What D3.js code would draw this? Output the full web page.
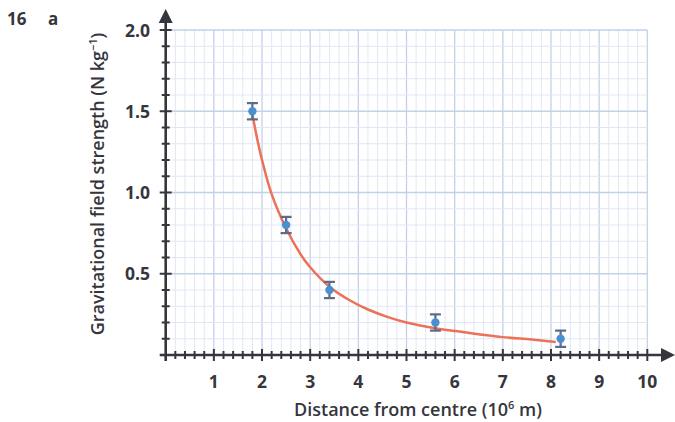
<!DOCTYPE html>
<html>
<head>
<meta charset="utf-8">
<script src="https://cdn.jsdelivr.net/npm/d3@7"></script>
<style>
  html, body { margin: 0; padding: 0; background: #fff; }
  svg { display: block; font-family: "Open Sans", "Noto Sans", sans-serif; }
</style>
</head>
<body>
<svg id="chart" width="675" height="422"></svg>
<script>
// Measured distances (10^6 m) and field strengths (N kg^-1) with uncertainty
const distance = [1.8, 2.5, 3.4, 5.6, 8.2];
const fieldStrength = [1.5, 0.8, 0.4, 0.2, 0.1];
const uncertainty = [0.05, 0.05, 0.05, 0.05, 0.05];

// Best-fit curve drawn through the data
const curveX = [1.8, 1.9, 2.0, 2.2, 2.5, 2.8, 3.0, 3.4, 3.8, 4.2, 4.6, 5.0, 5.6, 6.2, 7.0, 7.6, 8.1];
const curveY = [1.48, 1.33, 1.2, 0.99, 0.78, 0.62, 0.54, 0.42, 0.34, 0.28, 0.235, 0.2, 0.165, 0.14, 0.11, 0.095, 0.08];

const xTicks = [1, 2, 3, 4, 5, 6, 7, 8, 9, 10];
const yTicks = [0.5, 1.0, 1.5, 2.0];

const svg = d3.select("#chart");
const x = d3.scaleLinear().domain([0, 10]).range([165.7, 647.3]);
const y = d3.scaleLinear().domain([0, 2]).range([355, 30]);

const ink = "#35363d";

// grid
const grid = svg.append("g");
d3.range(0, 50).map(i => i * 0.2).slice(1).concat([10]).forEach(v => {
  const major = Math.abs(v - Math.round(v)) < 1e-6;
  grid.append("line")
    .attr("x1", x(v)).attr("x2", x(v)).attr("y1", y(0)).attr("y2", y(2))
    .attr("stroke", major ? "#c2d1ea" : "#dfe7f6").attr("stroke-width", major ? 1.3 : 1);
});
d3.range(1, 21).map(i => i * 0.1).forEach(v => {
  const major = Math.abs(v * 2 - Math.round(v * 2)) < 1e-6;
  grid.append("line")
    .attr("x1", x(0)).attr("x2", x(10)).attr("y1", y(v)).attr("y2", y(v))
    .attr("stroke", major ? "#c2d1ea" : "#dfe7f6").attr("stroke-width", major ? 1.3 : 1);
});

// axes
const axes = svg.append("g");
axes.append("line").attr("x1", x(0) - 6).attr("x2", 664).attr("y1", y(0)).attr("y2", y(0))
  .attr("stroke", ink).attr("stroke-width", 2.6);
axes.append("path").attr("d", `M675,${y(0)} L661,${y(0) - 7} L661,${y(0) + 7} Z`).attr("fill", ink);
axes.append("line").attr("x1", x(0)).attr("x2", x(0)).attr("y1", y(0) + 6).attr("y2", 20)
  .attr("stroke", ink).attr("stroke-width", 2.6);
axes.append("path").attr("d", `M${x(0)},9 L${x(0) - 7},23 L${x(0) + 7},23 Z`).attr("fill", ink);

// x ticks every 0.2
d3.range(1, 51).map(i => i * 0.2).forEach(v => {
  const major = Math.abs(v - Math.round(v)) < 1e-6;
  axes.append("line").attr("x1", x(v)).attr("x2", x(v))
    .attr("y1", y(0) - (major ? 6 : 4)).attr("y2", y(0) + (major ? 6 : 4))
    .attr("stroke", ink).attr("stroke-width", 2);
});
// y ticks every 0.1
d3.range(1, 21).map(i => i * 0.1).forEach(v => {
  const major = Math.abs(v * 2 - Math.round(v * 2)) < 1e-6;
  axes.append("line").attr("y1", y(v)).attr("y2", y(v))
    .attr("x1", x(0) - (major ? 6 : 4)).attr("x2", x(0) + (major ? 6 : 4))
    .attr("stroke", ink).attr("stroke-width", 2);
});

// tick labels
svg.append("g").selectAll("text").data(xTicks).join("text")
  .attr("x", d => x(d)).attr("y", 388).attr("text-anchor", "middle")
  .attr("font-size", 17.5).attr("font-weight", 700).attr("fill", ink)
  .text(d => d);
svg.append("g").selectAll("text").data(yTicks).join("text")
  .attr("x", 150).attr("y", d => y(d) + 6.5).attr("text-anchor", "end")
  .attr("font-size", 17.5).attr("font-weight", 700).attr("fill", ink)
  .text(d => d.toFixed(1));

// axis titles
const xt = svg.append("text").attr("x", 418).attr("y", 416).attr("text-anchor", "middle")
  .attr("font-size", 18).attr("font-weight", 600).attr("fill", ink);
xt.append("tspan").text("Distance from centre (10");
xt.append("tspan").attr("font-size", 11).attr("dy", -7).text("6");
xt.append("tspan").attr("dy", 7).text(" m)");

const yt = svg.append("text").attr("transform", "translate(104,184) rotate(-90)")
  .attr("text-anchor", "middle").attr("font-size", 18).attr("font-weight", 600).attr("fill", ink);
yt.append("tspan").text("Gravitational field strength (N kg");
yt.append("tspan").attr("font-size", 11).attr("dy", -7).text("−1");
yt.append("tspan").attr("dy", 7).text(")");

// question label
svg.append("text").attr("x", 7).attr("y", 25).attr("font-size", 17).attr("font-weight", 700)
  .attr("fill", ink).text("16");
svg.append("text").attr("x", 48).attr("y", 25).attr("font-size", 17).attr("font-weight", 700)
  .attr("fill", ink).text("a");

// fitted curve
const line = d3.line().x(d => x(d[0])).y(d => y(d[1])).curve(d3.curveCatmullRom);
svg.append("path").datum(curveX.map((v, i) => [v, curveY[i]]))
  .attr("d", line).attr("fill", "none").attr("stroke", "#ec7157").attr("stroke-width", 2.5);

// error bars and points
const pts = distance.map((d, i) => ({ x: d, y: fieldStrength[i], e: uncertainty[i] }));
const eb = svg.append("g").attr("stroke", "#5d6b86").attr("stroke-width", 2.2);
pts.forEach(p => {
  eb.append("line").attr("x1", x(p.x)).attr("x2", x(p.x)).attr("y1", y(p.y + p.e)).attr("y2", y(p.y - p.e));
  eb.append("line").attr("x1", x(p.x) - 5.5).attr("x2", x(p.x) + 5.5).attr("y1", y(p.y + p.e)).attr("y2", y(p.y + p.e));
  eb.append("line").attr("x1", x(p.x) - 5.5).attr("x2", x(p.x) + 5.5).attr("y1", y(p.y - p.e)).attr("y2", y(p.y - p.e));
});
svg.append("g").selectAll("circle").data(pts).join("circle")
  .attr("cx", d => x(d.x)).attr("cy", d => y(d.y)).attr("r", 4.2).attr("fill", "#4a8fd0");
</script>
</body>
</html>
